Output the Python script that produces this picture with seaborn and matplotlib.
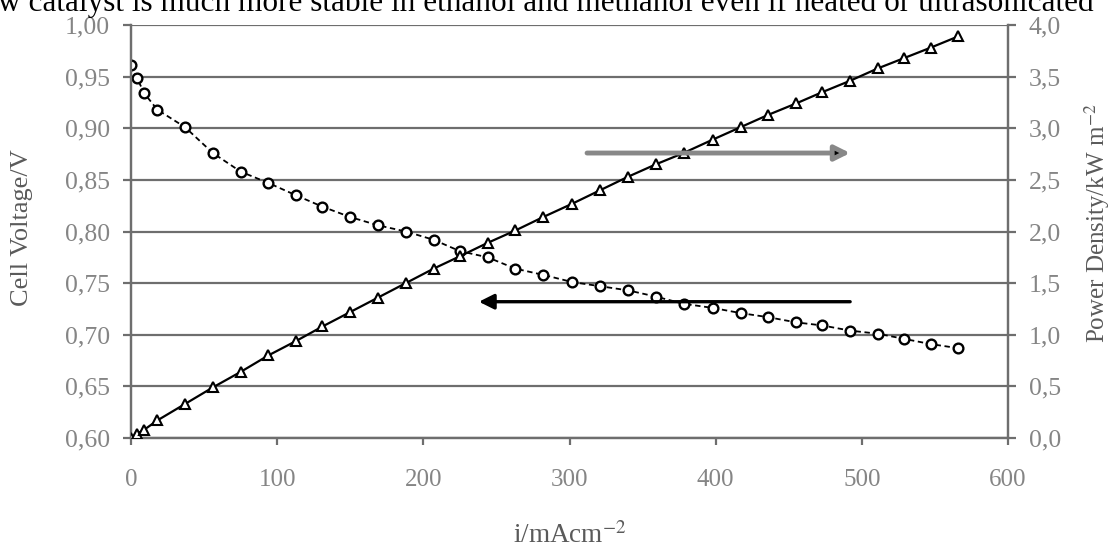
import matplotlib
matplotlib.use("Agg")
import matplotlib.pyplot as plt
import seaborn as sns
import pandas as pd

# current density (mA/cm2)
current = [0, 4, 9, 18, 37, 56, 75, 94, 113, 131, 150, 169, 188, 207, 225, 244,
           263, 282, 302, 321, 340, 359, 378, 398, 417, 436, 455, 473, 492, 511,
           529, 547, 566]

# cell voltage (V), left axis
voltage = [0.961, 0.949, 0.934, 0.918, 0.901, 0.876, 0.858, 0.847, 0.835, 0.824,
           0.814, 0.806, 0.800, 0.792, 0.781, 0.775, 0.764, 0.758, 0.751, 0.747,
           0.743, 0.737, 0.730, 0.726, 0.721, 0.717, 0.712, 0.709, 0.704, 0.701,
           0.696, 0.691, 0.687]

# power density (kW/m2), right axis
power = [0.00, 0.04, 0.08, 0.17, 0.33, 0.49, 0.64, 0.80, 0.94, 1.08, 1.22, 1.36,
         1.50, 1.64, 1.76, 1.89, 2.01, 2.14, 2.27, 2.40, 2.53, 2.65, 2.76, 2.89,
         3.01, 3.13, 3.24, 3.35, 3.46, 3.58, 3.68, 3.78, 3.89]

x_ticks = [0, 100, 200, 300, 400, 500, 600]
volt_ticks = [0.60, 0.65, 0.70, 0.75, 0.80, 0.85, 0.90, 0.95, 1.00]
volt_labels = ["0,60", "0,65", "0,70", "0,75", "0,80", "0,85", "0,90", "0,95", "1,00"]
power_ticks = [0.0, 0.5, 1.0, 1.5, 2.0, 2.5, 3.0, 3.5, 4.0]
power_labels = ["0,0", "0,5", "1,0", "1,5", "2,0", "2,5", "3,0", "3,5", "4,0"]

header_text = "w catalyst is much more stable in ethanol and methanol even if heated or ultrasonicated"

df = pd.DataFrame({"current": current, "voltage": voltage, "power": power})

sns.set_style("white")
plt.rcParams["font.family"] = ["Liberation Serif", "DejaVu Serif"]
plt.rcParams["mathtext.fontset"] = "stix"

grid_col = "#6e6e6e"
tick_col = "#858585"
label_col = "#5a5a5a"

fig = plt.figure(figsize=(11.14, 5.47), dpi=100)
ax = fig.add_axes([131 / 1114, 1 - 438 / 547, 877 / 1114, 413 / 547])
ax2 = ax.twinx()

sns.lineplot(data=df, x="current", y="voltage", ax=ax, color="black",
             linestyle=(0, (3, 2)), linewidth=1.3, marker="o", markersize=7,
             markerfacecolor="white", markeredgecolor="black", markeredgewidth=1.7,
             zorder=3)
sns.lineplot(data=df, x="current", y="power", ax=ax2, color="black",
             linewidth=1.6, marker="^", markersize=7.5,
             markerfacecolor="white", markeredgecolor="black", markeredgewidth=1.5,
             zorder=3)

ax.set_xlim(0, 600)
ax.set_ylim(0.60, 1.00)
ax2.set_ylim(0.0, 4.0)

ax.set_xticks(x_ticks)
ax.set_xticklabels([str(t) for t in x_ticks])
ax.set_yticks(volt_ticks)
ax.set_yticklabels(volt_labels)
ax2.set_yticks(power_ticks)
ax2.set_yticklabels(power_labels)

ax.yaxis.grid(True, color=grid_col, linewidth=1.6)
ax.xaxis.grid(False)
ax2.grid(False)
ax.set_axisbelow(True)

for a in (ax, ax2):
    for side in ("left", "right", "bottom"):
        a.spines[side].set_color(grid_col)
        a.spines[side].set_linewidth(1.6)
    a.spines["top"].set_visible(False)

ax.tick_params(axis="y", direction="out", length=6, width=1.6, color=grid_col,
               labelsize=18.5, labelcolor=tick_col, pad=9, left=True)
ax.tick_params(axis="x", direction="out", length=5, width=1.6, color=grid_col,
               labelsize=18, labelcolor=tick_col, pad=17, bottom=True)
ax2.tick_params(axis="y", direction="out", length=6, width=1.6, color=grid_col,
                labelsize=18.5, labelcolor=tick_col, pad=9, right=True)

ax.set_xlabel(r"i/mAcm$^{-2}$", fontsize=19.5, color=label_col)
ax.set_ylabel("Cell Voltage/V", fontsize=19, color=label_col)
ax2.set_ylabel(r"Power Density/kW m$^{-2}$", fontsize=18, color=label_col)
ax.xaxis.set_label_coords(0.5, -0.235)
ax.yaxis.set_label_coords(-0.124, 0.51)
ax2.yaxis.set_label_coords(1.101, 0.52)
for lab in (ax.xaxis.label, ax.yaxis.label, ax2.yaxis.label):
    lab.set_va("center")
    lab.set_ha("center")

# arrows pointing each curve to its axis
ax2.annotate("", xy=(492, 2.76), xytext=(312, 2.76),
             arrowprops=dict(arrowstyle="-|>,head_length=0.9,head_width=0.45",
                             ec="#888888", fc="black", lw=3.5, shrinkA=0, shrinkB=0))
ax.annotate("", xy=(238, 0.732), xytext=(492, 0.732),
            arrowprops=dict(arrowstyle="-|>,head_length=0.9,head_width=0.45",
                            color="black", lw=2.4, shrinkA=0, shrinkB=0))

fig.text(-0.002, 1 - 11 / 547, header_text, fontsize=22.5, color="black",
         ha="left", va="baseline")

fig.savefig("out.png", dpi=100)
